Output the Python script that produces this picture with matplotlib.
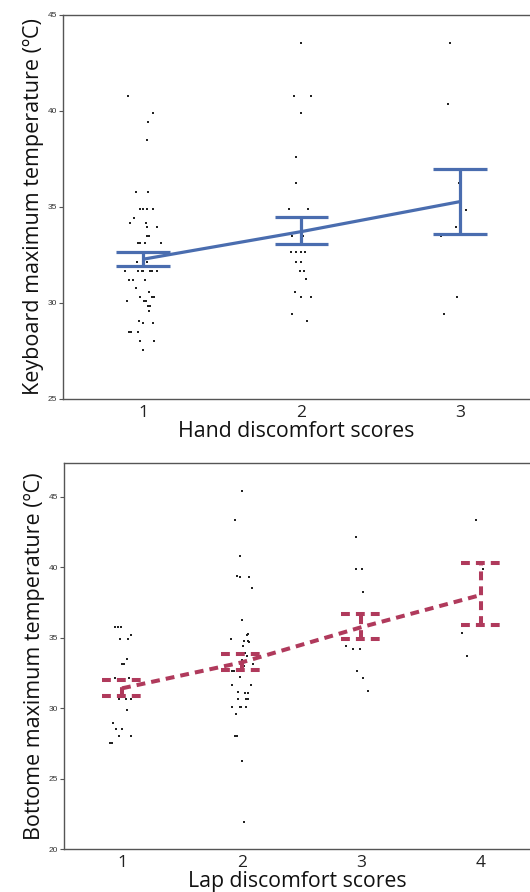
import matplotlib
matplotlib.use("Agg")
import matplotlib.pyplot as plt
import numpy as np

# ---- Keyboard (hand discomfort) ----
hand_scores = [1, 2, 3]
hand_mean = [32.28, 33.72, 35.28]
hand_lo = [31.93, 33.06, 33.58]
hand_hi = [32.64, 34.46, 36.96]

hand_g1 = [40.78, 39.88, 39.43, 38.51, 35.77, 35.77, 34.88, 34.88, 34.88, 34.88,
           34.41, 34.18, 34.18, 33.97, 33.97, 33.51, 33.51, 33.14, 33.14, 33.14,
           33.14, 32.12, 32.12, 31.68, 31.68, 31.68, 31.68, 31.68, 31.68, 31.68,
           31.21, 31.21, 31.21, 30.76, 30.59, 30.30, 30.30, 30.30, 30.09, 30.09,
           30.09, 29.84, 29.84, 29.58, 29.06, 28.96, 28.96, 28.49, 28.49, 28.49,
           28.04, 28.04, 27.56]
hand_g1_jit = [-0.095, 0.063, 0.032, 0.025, -0.044, 0.032, -0.019, 0.0, 0.025, 0.063,
               -0.057, -0.082, 0.019, 0.088, 0.025, 0.025, 0.038, -0.032, -0.019, 0.013,
               0.114, -0.038, 0.025, -0.114, -0.032, -0.006, 0.0, 0.044, 0.057, 0.088,
               -0.088, -0.063, 0.013, -0.044, 0.038, -0.019, 0.057, 0.069, -0.101, 0.006,
               0.019, 0.032, 0.044, 0.038, -0.025, 0.0, 0.063, -0.088, -0.076, -0.032,
               -0.019, 0.069, 0.0]
hand_g2 = [43.53, 40.78, 40.78, 39.88, 37.59, 36.23, 34.88, 34.88, 33.51, 33.51,
           32.64, 32.64, 32.64, 32.64, 32.14, 32.14, 31.65, 31.65, 31.23, 30.59,
           30.30, 30.30, 29.41, 29.06]
hand_g2_jit = [0.0, -0.05, 0.063, -0.004, -0.032, -0.032, -0.078, 0.038, -0.063, 0.01,
               -0.068, -0.032, -0.006, 0.025, -0.036, 0.0, -0.011, 0.015, 0.027, -0.042,
               0.0, 0.057, -0.059, 0.033]
hand_g3 = [43.53, 40.35, 36.23, 34.86, 33.97, 33.48, 30.30, 29.41]
hand_g3_jit = [-0.063, -0.076, -0.006, 0.038, -0.025, -0.12, -0.019, -0.10]

# ---- Bottom (lap discomfort) ----
lap_scores = [1, 2, 3, 4]
lap_mean = [31.41, 33.25, 35.75, 38.04]
lap_lo = [30.89, 32.71, 34.89, 35.91]
lap_hi = [32.02, 33.83, 36.67, 40.29]

lap_g1 = [35.74, 35.74, 35.74, 35.22, 34.88, 34.88, 33.50, 33.17, 33.17, 32.17,
          32.17, 31.30, 30.63, 30.63, 30.63, 29.87, 28.97, 28.50, 28.50, 28.05,
          28.05, 27.55, 27.55]
lap_g1_jit = [-0.058, -0.033, -0.008, 0.075, -0.017, 0.05, 0.042, 0.0, 0.017, -0.058,
              0.058, 0.008, -0.025, 0.033, 0.075, 0.042, -0.075, -0.05, 0.0, -0.025,
              0.075, -0.10, -0.084]
lap_g2 = [45.43, 43.39, 40.83, 39.42, 39.34, 39.32, 38.53, 36.24, 35.30, 35.20,
          34.89, 34.80, 34.75, 34.70, 34.42, 33.94, 33.94, 33.94, 33.70, 33.40,
          33.35, 33.15, 33.00, 33.00, 32.67, 32.63, 32.63, 32.19, 31.65, 31.65,
          31.15, 31.10, 31.10, 30.63, 30.63, 30.63, 30.10, 30.10, 30.10, 30.10,
          29.60, 28.05, 28.05, 26.25, 21.94]
lap_g2_jit = [0.0, -0.058, -0.017, -0.042, -0.017, 0.058, 0.084, 0.0, 0.05, 0.042,
              -0.092, 0.017, 0.05, 0.058, 0.008, -0.025, 0.0, 0.025, 0.042, 0.0,
              0.017, 0.092, 0.0, 0.017, -0.084, -0.067, -0.042, -0.017, -0.084, 0.075,
              -0.033, 0.025, 0.05, -0.033, 0.033, 0.05, -0.084, -0.017, -0.008, 0.033,
              -0.05, -0.058, -0.042, 0.0, 0.017]
lap_g3 = [42.16, 39.85, 39.85, 38.27, 34.43, 34.17, 34.17, 32.67, 32.14, 31.24]
lap_g3_jit = [-0.042, -0.042, 0.008, 0.01, -0.125, -0.07, -0.012, -0.033, 0.017, 0.058]
lap_g4 = [43.39, 39.90, 35.34, 33.70]
lap_g4_jit = [-0.042, 0.017, -0.159, -0.117]

BLUE = "#4a6daf"
RED = "#b03a5c"
SPINE = "#555555"
FONT = ["Open Sans", "DejaVu Sans"]

plt.rcParams["font.family"] = FONT

fig = plt.figure(figsize=(5.30, 8.92), dpi=100)
ax1 = fig.add_axes([63 / 530, 1 - 399 / 892, 1 - 63 / 530, (399 - 15) / 892])
ax2 = fig.add_axes([64 / 530, 1 - 849 / 892, 1 - 64 / 530, (849 - 463) / 892])

CAP = 0.17


def draw_points(ax, centre, vals, jit):
    x = np.asarray(jit) + centre
    ax.scatter(x, vals, s=1.0, color="#222222", marker="s", linewidths=0, zorder=2)


def draw_means(ax, xs, mean, lo, hi, color, lw, ls):
    ax.plot(xs, mean, color=color, lw=lw, ls=ls, zorder=3, solid_capstyle="butt")
    for x, m, a, b in zip(xs, mean, lo, hi):
        ax.plot([x, x], [a, b], color=color, lw=lw, ls=ls, zorder=3,
                solid_capstyle="butt")
        ax.plot([x - CAP, x + CAP], [a, a], color=color, lw=lw, ls=ls, zorder=3,
                solid_capstyle="butt")
        ax.plot([x - CAP, x + CAP], [b, b], color=color, lw=lw, ls=ls, zorder=3,
                solid_capstyle="butt")


def style(ax, xlabel, ylabel, yticks, xticks):
    for side in ["top", "left", "bottom"]:
        ax.spines[side].set_color(SPINE)
        ax.spines[side].set_linewidth(1.0)
    ax.spines["right"].set_visible(False)
    ax.set_yticks(yticks)
    ax.set_yticklabels([str(t) for t in yticks], fontsize=6,
                       family=["Liberation Sans", "DejaVu Sans"], color="#333333")
    ax.tick_params(axis="y", length=3, width=0.8, color=SPINE, pad=1)
    ax.set_xticks(xticks)
    ax.set_xticklabels([str(t) for t in xticks], fontsize=12.5, color="#222222")
    ax.tick_params(axis="x", length=0, pad=4)
    ax.set_xlabel(xlabel, fontsize=15.3, color="#111111", labelpad=0)
    ax.set_ylabel(ylabel, fontsize=15.5, color="#111111", labelpad=3)


draw_points(ax1, 1, hand_g1, hand_g1_jit)
draw_points(ax1, 2, hand_g2, hand_g2_jit)
draw_points(ax1, 3, hand_g3, hand_g3_jit)
draw_means(ax1, hand_scores, hand_mean, hand_lo, hand_hi, BLUE, 2.3, "-")
ax1.set_xlim(0.495, 3.442)
ax1.set_ylim(25, 45)
style(ax1, "Hand discomfort scores", "Keyboard maximum temperature (ºC)",
      [25, 30, 35, 40, 45], hand_scores)

draw_points(ax2, 1, lap_g1, lap_g1_jit)
draw_points(ax2, 2, lap_g2, lap_g2_jit)
draw_points(ax2, 3, lap_g3, lap_g3_jit)
draw_points(ax2, 4, lap_g4, lap_g4_jit)
draw_means(ax2, lap_scores, lap_mean, lap_lo, lap_hi, RED, 2.9, (0, (2.2, 1.5)))
ax2.set_xlim(0.515, 4.41)
ax2.set_ylim(20, 47.41)
style(ax2, "Lap discomfort scores", "Bottome maximum temperature (ºC)",
      [20, 25, 30, 35, 40, 45], lap_scores)

fig.savefig("out.png", dpi=100)
